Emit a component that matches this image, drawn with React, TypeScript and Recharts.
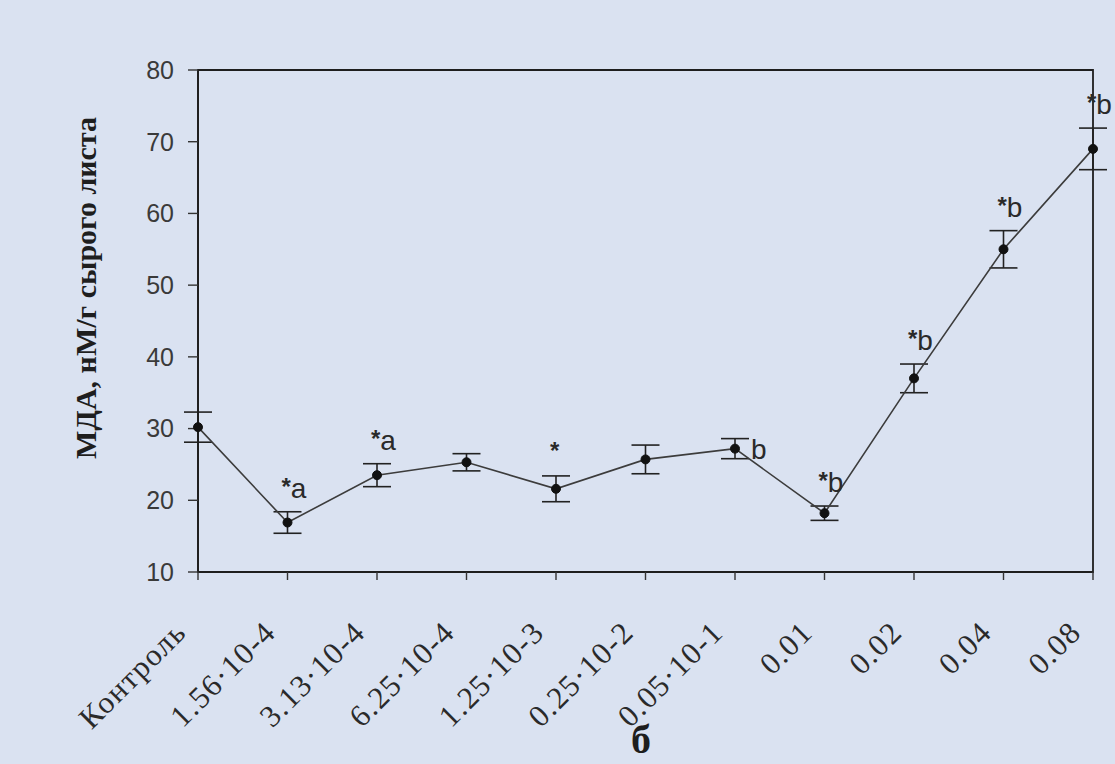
import React from 'react';
import { LineChart, Line, XAxis, YAxis, ErrorBar, ReferenceArea, LabelList } from 'recharts';

const categories = ['Контроль', '1.56·10-4', '3.13·10-4', '6.25·10-4', '1.25·10-3', '0.25·10-2', '0.05·10-1', '0.01', '0.02', '0.04', '0.08'];
const mda = [30.2, 16.9, 23.5, 25.3, 21.6, 25.7, 27.2, 18.2, 37.0, 55.0, 69.0];
const sem = [2.1, 1.5, 1.6, 1.2, 1.8, 2.0, 1.4, 1.0, 2.0, 2.6, 2.9];
const marks = ['', '*a', '*a', '', '*', '', 'b', '*b', '*b', '*b', '*b'];
const markSide = ['', 'top', 'top', '', 'top', '', 'right', 'top', 'top', 'top', 'top'];
const yTicks = [10, 20, 30, 40, 50, 60, 70, 80];

const data = categories.map((c, i) => ({
  name: c,
  mda: mda[i],
  sem: sem[i],
  mark: marks[i],
  anchor: markSide[i] === 'top' ? mda[i] + sem[i] : mda[i],
}));

const XTick = (props: any) => {
  const { x, y, payload } = props;
  return (
    <g transform={`translate(${x - 10},${y + 52}) rotate(-45)`}>
      <text x={0} y={0} textAnchor="end" fontFamily="'Liberation Serif', 'Times New Roman', serif" fontSize={31} letterSpacing={1.4} fill="#2a2a2a">
        {payload.value}
      </text>
    </g>
  );
};

const MarkLabel = (props: any) => {
  const { x, y, index } = props;
  const t = marks[index];
  if (!t) return null;
  const side = markSide[index];
  const tx = side === 'right' ? x + 16 : x - 6;
  const ty = side === 'right' ? y + 10 : y - 14;
  const star = t.startsWith('*');
  const rest = star ? t.slice(1) : t;
  return (
    <text x={tx} y={ty} fontFamily="'Liberation Sans', Arial, sans-serif" fontSize={28} fill="#2a2a2a">
      {star ? <tspan fontSize={24} fontWeight="bold" dy={-3}>*</tspan> : null}
      <tspan dy={star ? 3 : 0}>{rest}</tspan>
    </text>
  );
};

export default function App() {
  return (
    <div style={{ position: 'fixed', left: 0, top: 0, width: 1115, height: 764, background: '#dae2f1', overflow: 'hidden' }}>
      <LineChart width={1115} height={764} data={data} margin={{ top: 70, right: 22, bottom: 42, left: 108 }}>
        <ReferenceArea x1={categories[0]} x2={categories[categories.length - 1]} y1={10} y2={80} fill="none" stroke="#1e1e1e" strokeWidth={1.8} ifOverflow="visible" />
        <XAxis
          dataKey="name"
          height={150}
          axisLine={{ stroke: '#1e1e1e', strokeWidth: 1.8 }}
          tickLine={{ stroke: '#333', strokeWidth: 1.4 }}
          tickSize={8}
          tick={<XTick />}
          interval={0}
        />
        <YAxis
          type="number"
          domain={[10, 80]}
          ticks={yTicks}
          width={90}
          axisLine={{ stroke: '#1e1e1e', strokeWidth: 1.8 }}
          tickLine={{ stroke: '#333', strokeWidth: 1.4 }}
          tickSize={10}
          tickMargin={14}
          tick={{ fontFamily: "'Liberation Sans', Arial, sans-serif", fontSize: 25, fill: '#3a3a3a' }}
        />
        <Line
          type="linear"
          dataKey="mda"
          stroke="#3c3c3c"
          strokeWidth={1.6}
          dot={{ r: 4.5, fill: '#111', stroke: '#111', strokeWidth: 1 }}
          isAnimationActive={false}
        >
          <ErrorBar dataKey="sem" width={14} stroke="#222" strokeWidth={1.6} direction="y" />
        </Line>
        <Line type="linear" dataKey="anchor" stroke="none" dot={false} isAnimationActive={false} legendType="none">
          <LabelList dataKey="mark" content={<MarkLabel />} />
        </Line>
      </LineChart>
      <svg width={1115} height={764} style={{ position: 'absolute', left: 0, top: 0, pointerEvents: 'none' }}>
        <text transform="translate(96,288) rotate(-90)" textAnchor="middle" fontFamily="'Liberation Serif', 'Times New Roman', serif" fontWeight="bold" fontSize={30} fill="#1e1e1e">
          МДА, нМ/г сырого листа
        </text>
        <text x={641} y={753} textAnchor="middle" fontFamily="'Liberation Serif', 'Times New Roman', serif" fontWeight="bold" fontSize={40} fill="#1e1e1e">
          б
        </text>
      </svg>
    </div>
  );
}
